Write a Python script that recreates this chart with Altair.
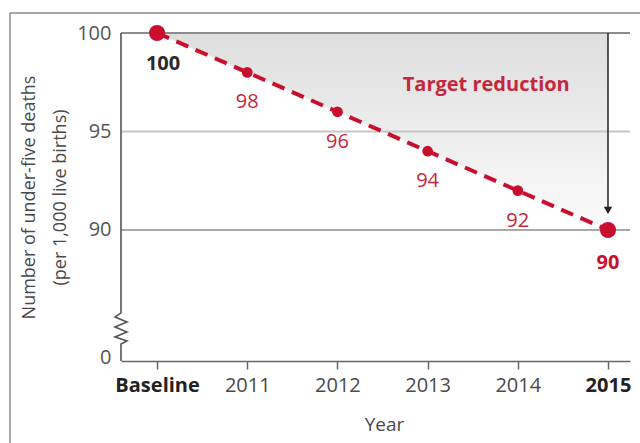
import altair as alt
import pandas as pd

# Under-five mortality path towards the 2015 target
periods = ["Baseline", "2011", "2012", "2013", "2014", "2015"]
deaths = [100, 98, 96, 94, 92, 90]

# Reference lines across the plot
grid_values = [100, 95, 90]
grid_colors = ["#8c8c8c", "#c6c6c6", "#8c8c8c"]
grid_widths = [2.0, 2.0, 1.5]

# Broken y axis: axis line with a zig-zag marking the cut between 0 and the upper range
axis_break_y = [100, 85.79, 85.58, 85.33, 85.08, 84.82, 84.57, 84.37, 84.21, 83.35]
axis_break_x = [-0.4, -0.4, -0.466, -0.334, -0.466, -0.334, -0.466, -0.334, -0.4, -0.4]

Y_MIN, Y_MAX = 83.35, 100
X_MIN, X_MAX = -0.4, 5.244
ZERO_TICK = 83.55

RED = "#c8102e"
LABEL_RED = "#c4283c"
FONT = "Open Sans"

W, H = 509, 328

df = pd.DataFrame({"idx": list(range(len(periods))), "period": periods, "deaths": deaths})
df["top"] = 100
df["end"] = df["idx"].isin([0, len(periods) - 1])
df["label"] = df["deaths"].astype(str)

grid_df = pd.DataFrame({"y": grid_values, "c": grid_colors, "w": grid_widths})
axis_df = pd.DataFrame({"x": axis_break_x, "y": axis_break_y, "o": list(range(len(axis_break_y)))})

xs = alt.Scale(domain=[X_MIN, X_MAX], nice=False, zero=False)
ys = alt.Scale(domain=[Y_MIN, Y_MAX], nice=False, zero=False)

label_expr = "[" + ",".join(f"'{p}'" for p in periods) + "][datum.value]"

x_axis = alt.Axis(
    values=list(range(len(periods))),
    labelExpr=label_expr,
    labelFont=FONT,
    labelFontSize=20,
    labelColor={"condition": {"test": "datum.value == 0 || datum.value == 5", "value": "#222222"}, "value": "#4a4a4a"},
    labelFontWeight={"condition": {"test": "datum.value == 0 || datum.value == 5", "value": "bold"}, "value": "normal"},
    labelPadding=6,
    tickSize=8,
    tickColor="#666666",
    tickWidth=1.5,
    domainColor="#666666",
    domainWidth=1.5,
    grid=False,
    title="Year",
    titleFont=FONT,
    titleFontSize=19,
    titleFontWeight="normal",
    titleColor="#4a4a4a",
    titleX=263,
    titleY=63,
    titleBaseline="middle",
)

y_axis = alt.Axis(
    values=[ZERO_TICK, 90, 95, 100],
    labelExpr="datum.value < 85 ? '0' : datum.label",
    labelFont=FONT,
    labelFontSize=20,
    labelColor="#555555",
    labelPadding=10,
    ticks=False,
    domain=False,
    grid=False,
    title=["Number of under-five deaths", "(per 1,000 live births)"],
    titleFont=FONT,
    titleFontSize=18,
    titleFontWeight="normal",
    titleColor="#4a4a4a",
    titlePadding=7,
    titleLineHeight=31,
)

base = alt.Chart(df)

# Shaded gap between the 100 level and the target path
area = base.mark_area(
    color=alt.Gradient(
        gradient="linear",
        stops=[alt.GradientStop(color="#dedede", offset=0), alt.GradientStop(color="#fbfbfb", offset=1)],
        x1=0, x2=0, y1=0, y2=1,
    )
).encode(
    x=alt.X("idx:Q", scale=xs, axis=x_axis),
    y=alt.Y("deaths:Q", scale=ys, axis=y_axis),
    y2="top:Q",
)

grid = alt.Chart(grid_df).mark_rule().encode(
    y=alt.Y("y:Q", scale=ys),
    x=alt.value(0),
    x2=alt.value(W),
    color=alt.Color("c:N", scale=None),
    strokeWidth=alt.StrokeWidth("w:Q", scale=None),
)

yline = alt.Chart(axis_df).mark_line(color="#555555", strokeWidth=1.6, strokeJoin="miter").encode(
    x=alt.X("x:Q", scale=xs),
    y=alt.Y("y:Q", scale=ys),
    order="o:Q",
)

# Arrow showing the target reduction at 2015
arrow_line = alt.Chart(pd.DataFrame({"x": [5], "y": [100], "y2": [91.0]})).mark_rule(
    color="#222222", strokeWidth=1.5
).encode(x=alt.X("x:Q", scale=xs), y=alt.Y("y:Q", scale=ys), y2="y2:Q")

arrow_head = alt.Chart(pd.DataFrame({"x": [5], "y": [91.0]})).mark_point(
    shape="triangle-down", filled=True, color="#222222", size=70, opacity=1
).encode(x=alt.X("x:Q", scale=xs), y=alt.Y("y:Q", scale=ys))

line = base.mark_line(color=RED, strokeWidth=4, strokeDash=[13, 8]).encode(
    x=alt.X("idx:Q", scale=xs), y=alt.Y("deaths:Q", scale=ys)
)

dots = base.mark_circle(color=RED, opacity=1).encode(
    x=alt.X("idx:Q", scale=xs),
    y=alt.Y("deaths:Q", scale=ys),
    size=alt.condition("datum.end", alt.value(260), alt.value(115)),
)

mid_labels = base.transform_filter("!datum.end").mark_text(
    font=FONT, fontSize=20, color=LABEL_RED, dy=30
).encode(x=alt.X("idx:Q", scale=xs), y=alt.Y("deaths:Q", scale=ys), text="label:N")

start_label = base.transform_filter("datum.idx == 0").mark_text(
    font=FONT, fontSize=20, fontWeight="bold", dy=31, dx=6, color="#2a2a2a"
).encode(x=alt.X("idx:Q", scale=xs), y=alt.Y("deaths:Q", scale=ys), text="label:N")

end_label = base.transform_filter(f"datum.idx == {len(periods) - 1}").mark_text(
    font=FONT, fontSize=20, fontWeight="bold", dy=33, color=RED
).encode(x=alt.X("idx:Q", scale=xs), y=alt.Y("deaths:Q", scale=ys), text="label:N")

target = alt.Chart(pd.DataFrame({"x": [3.65], "y": [97.35], "t": ["Target reduction"]})).mark_text(
    font=FONT, fontSize=20, fontWeight="bold", color=LABEL_RED
).encode(x=alt.X("x:Q", scale=xs), y=alt.Y("y:Q", scale=ys), text="t:N")

# Thin outer frame on the left and top
frame_left = alt.Chart(pd.DataFrame({"a": [0]})).mark_rule(color="#8a8a8a", strokeWidth=1.5).encode(
    x=alt.value(-111), y=alt.value(-20), y2=alt.value(H + 82)
)
frame_top = alt.Chart(pd.DataFrame({"a": [0]})).mark_rule(color="#8a8a8a", strokeWidth=1.5).encode(
    x=alt.value(-111), x2=alt.value(W + 10), y=alt.value(-20)
)

chart = alt.layer(
    area, grid, yline, arrow_line, arrow_head, line, dots, mid_labels, start_label, end_label, target,
    frame_left, frame_top,
).properties(
    width=W,
    height=H,
    autosize=alt.AutoSizeParams(type="none"),
    padding={"left": 121, "top": 33, "right": 10, "bottom": 82},
    background="white",
).configure_view(stroke=None)

chart.save("out.html", embed_options={"renderer": "svg", "actions": False})
